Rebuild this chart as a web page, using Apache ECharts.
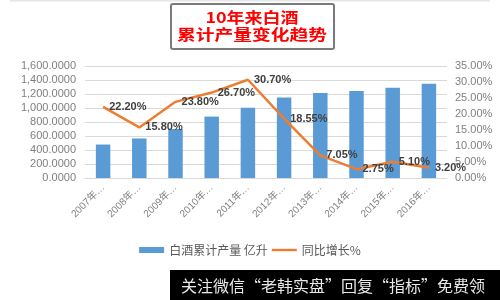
<!DOCTYPE html>
<html><head><meta charset="utf-8">
<script src="https://cdn.jsdelivr.net/npm/echarts@6/dist/echarts.min.js"></script>
<style>html,body{margin:0;padding:0;background:#fff}#c{width:500px;height:300px}</style>
</head><body><div id="c"></div>
<script>
const categories = ['2007年12月','2008年12月','2009年12月','2010年12月','2011年12月','2012年12月','2013年12月','2014年12月','2015年12月','2016年12月'];
const output = [478, 565, 700, 877, 1005, 1150, 1214, 1243, 1290, 1348];
const growth = [22.20, 15.80, 23.80, 26.70, 30.70, 18.55, 7.05, 2.75, 5.10, 3.20];
const seriesNames = ['白酒累计产量 亿升', '同比增长%'];
const titleLines = ['10年来白酒', '累计产量变化趋势'];
const watermark = '关注微信“老韩实盘”回复“指标”免费领';

const chart = echarts.init(document.getElementById('c'), null, {renderer: 'canvas'});
const font = 'Arial, "Liberation Sans", "Noto Sans CJK SC", sans-serif';
chart.setOption({
  animation: false,
  textStyle: {fontFamily: font},
  grid: {left: 85, right: 53, top: 66, bottom: 122},
  legend: {
    data: [{name: seriesNames[0], icon: 'rect'},
           {name: seriesNames[1], icon: 'path://M0,0 M0,6 M0,1.8H25V4.2H0Z'}],
    top: 239, left: 'center', itemGap: 4,
    itemWidth: 25, itemHeight: 6,
    textStyle: {color: '#595959', fontSize: 12, fontFamily: '"Noto Sans CJK SC", sans-serif'}
  },
  xAxis: {
    type: 'category', data: categories,
    axisLine: {lineStyle: {color: '#d9d9d9'}}, axisTick: {show: false},
    axisLabel: {
      color: '#7f7f7f', fontSize: 10, rotate: 45, interval: 0, margin: 8,
      formatter: v => v.slice(0, 5) + '…'
    }
  },
  yAxis: [{
    type: 'value', min: 0, max: 1600, interval: 200,
    axisLine: {show: false}, axisTick: {show: false},
    splitLine: {lineStyle: {color: '#d9d9d9'}},
    axisLabel: {color: '#7f7f7f', fontSize: 11, margin: 9,
      formatter: v => v.toLocaleString('en-US', {minimumFractionDigits: 4, maximumFractionDigits: 4})}
  }, {
    type: 'value', min: 0, max: 35, interval: 5,
    axisLine: {show: false}, axisTick: {show: false}, splitLine: {show: false},
    axisLabel: {color: '#7f7f7f', fontSize: 11, margin: 8, formatter: v => v.toFixed(2) + '%'}
  }],
  series: [{
    name: seriesNames[0], type: 'bar', data: output, barWidth: '40%',
    itemStyle: {color: '#5B9BD5'}
  }, {
    name: seriesNames[1], type: 'line', yAxisIndex: 1, data: growth,
    symbol: 'none', lineStyle: {color: '#ED7D31', width: 2.5}, itemStyle: {color: '#ED7D31'}
  }, {
    name: 'labels', type: 'line', yAxisIndex: 1, data: growth, z: 5,
    symbol: 'circle', symbolSize: 0.1, lineStyle: {opacity: 0}, itemStyle: {color: '#ED7D31'},
    label: {show: true, position: 'right', distance: 6, color: '#404040', fontSize: 11, fontWeight: 'bold',
      formatter: p => p.value.toFixed(2) + '%'}
  }],
  graphic: [
    {type: 'rect', shape: {x: 10, y: 0, width: 480, height: 1.5}, style: {fill: '#e6e6e6'}, silent: true},
    {type: 'rect', shape: {x: 171, y: 4, width: 163, height: 45, r: 2}, style: {fill: '#fff', stroke: '#7a7a7a', lineWidth: 2}},
    {type: 'text', x: 252, y: 17, scaleX: 1.2, originX: 0, originY: 0,
      style: {text: titleLines[0], fill: '#ff0000', font: 'bold 15px "Noto Sans CJK SC", sans-serif', textAlign: 'center', textVerticalAlign: 'middle'}},
    {type: 'text', x: 252, y: 34, scaleX: 1.25, originX: 0, originY: 0,
      style: {text: titleLines[1], fill: '#ff0000', font: 'bold 15px "Noto Sans CJK SC", sans-serif', textAlign: 'center', textVerticalAlign: 'middle'}},
    {type: 'rect', shape: {x: 170, y: 270, width: 330, height: 30}, style: {fill: '#000'}},
    {type: 'text', x: 333, y: 286,
      style: {text: watermark, fill: '#e8e8e8', font: '16px "Noto Sans CJK SC", sans-serif', textAlign: 'center', textVerticalAlign: 'middle'}}
  ]
});
</script></body></html>
